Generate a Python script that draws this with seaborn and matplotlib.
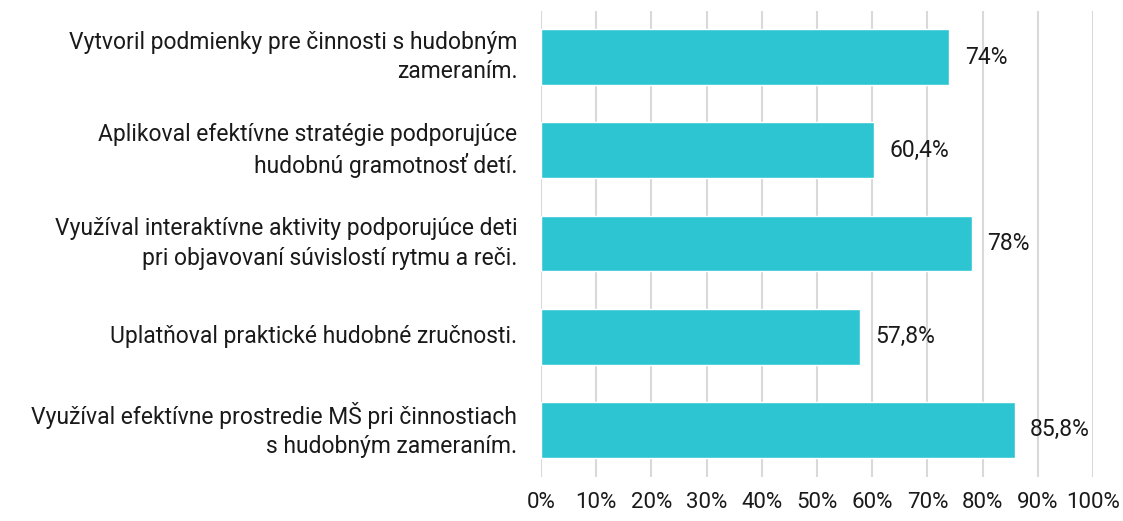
import matplotlib
matplotlib.use('Agg')
import matplotlib.pyplot as plt
import pandas as pd
import seaborn as sns
from matplotlib.ticker import FixedLocator

# Data
labels = [
    'Vytvoril podmienky pre činnosti s hudobným\nzameraním.',
    'Aplikoval efektívne stratégie podporujúce\nhudobnú gramotnosť detí.',
    'Využíval interaktívne aktivity podporujúce deti\npri objavovaní súvislostí rytmu a reči.',
    'Uplatňoval praktické hudobné zručnosti.',
    'Využíval efektívne prostredie MŠ pri činnostiach\ns hudobným zameraním.',
]
values = [74.0, 60.4, 78.0, 57.8, 85.8]
value_texts = ['74%', '60,4%', '78%', '57,8%', '85,8%']
ticks = [0, 10, 20, 30, 40, 50, 60, 70, 80, 90, 100]
tick_texts = [f'{t}%' for t in ticks]

df = pd.DataFrame({'label': labels, 'value': values})

sns.set_style('white')
plt.rcParams['font.family'] = ['Roboto', 'DejaVu Sans']

fig = plt.figure(figsize=(11.23, 5.21), dpi=100)
ax = fig.add_axes([0.4817, 0.0854, 0.4916, 0.8944])

sns.barplot(data=df, x='value', y='label', color='#2EC5D2', saturation=1,
            width=0.6, ax=ax, zorder=3)

ax.set_xlim(0, 100)
ax.xaxis.set_major_locator(FixedLocator(ticks))
ax.set_xticklabels(tick_texts, fontsize=16, color='#1a1a1a')
ax.tick_params(axis='y', labelsize=16.5, length=0, pad=17, labelcolor='#1a1a1a')
ax.tick_params(axis='x', length=0, pad=11)
for lbl in ax.get_yticklabels():
    lbl.set_horizontalalignment('right')
    lbl.set_verticalalignment('center')
    lbl.set_multialignment('right')
    lbl.set_linespacing(1.35)

ax.grid(axis='x', color='#D9D9D9', linewidth=1.5, zorder=0)
ax.set_axisbelow(True)
for s in ax.spines.values():
    s.set_visible(False)
ax.set_xlabel('')
ax.set_ylabel('')

for i, (v, t) in enumerate(zip(values, value_texts)):
    ax.annotate(t, xy=(v, i), xytext=(11, 0), textcoords='offset points',
                ha='left', va='center', fontsize=16.5, color='#1a1a1a')

fig.savefig('out.png', dpi=100)
